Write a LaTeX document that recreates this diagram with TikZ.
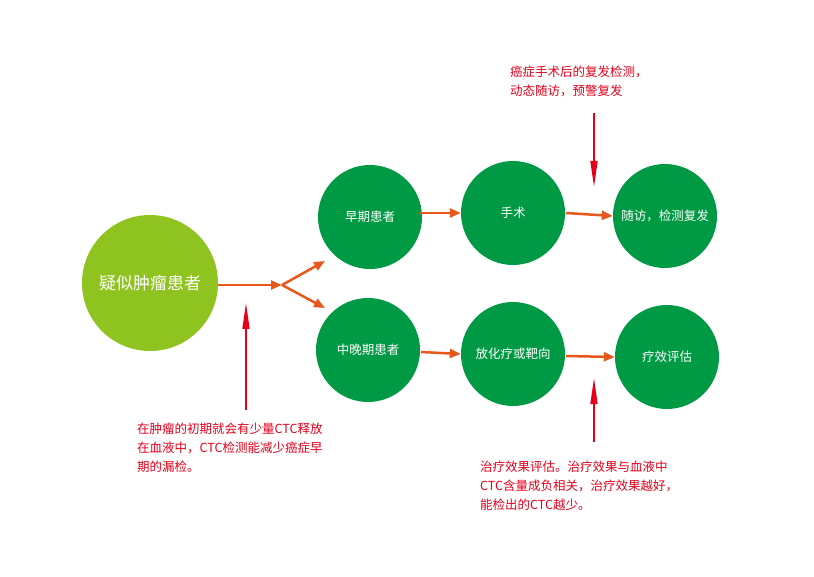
\documentclass[tikz,border=0pt]{standalone}
\usepackage{fontspec}
\setmainfont{Noto Sans CJK SC}
\usetikzlibrary{arrows.meta}
\definecolor{lg}{HTML}{8FC31F}
\definecolor{dg}{HTML}{009A44}
\definecolor{og}{HTML}{E8581C}
\definecolor{rd}{HTML}{E5001A}
\begin{document}
\begin{tikzpicture}[x=1pt,y=-1pt,
 big/.style={circle,fill=lg,minimum size=136pt,inner sep=0,text=white,font=\fontsize{17}{20}\selectfont},
 sm/.style={circle,fill=dg,minimum size=104pt,inner sep=0,text=white,font=\fontsize{12.5}{15}\selectfont},
 oa/.style={draw=og,line width=2.5pt,-{Triangle[length=11pt,width=9pt]}},
 ra/.style={draw=rd,line width=1.6pt,-{Triangle[length=26pt,width=7pt]}},
 rt/.style={text=rd,align=left,anchor=north west,inner sep=0,font=\fontsize{12.5}{19}\selectfont}]
\useasboundingbox (0,0) rectangle (814,577);
\node[big] (s) at (150,283) {疑似肿瘤患者};
\node[sm] (e) at (370,217) {早期患者};
\node[sm] (op) at (513,213) {手术};
\node[sm] (f) at (665,216) {随访，检测复发};
\node[sm] (m) at (368,350) {中晚期患者};
\node[sm] (c) at (513,354) {放化疗或靶向};
\node[sm] (ev) at (667,357) {疗效评估};
\coordinate (br) at (282,285);
\draw[oa] (218,285) -- (br);
\draw[oa] (br) -- (325,261);
\draw[oa] (br) -- (325,308);
\draw[oa] (420,213) -- (op.west);
\draw[oa] (566,213) -- (f.west);
\draw[oa] (421,352) -- (c.west);
\draw[oa] (566,356) -- (ev.west);
\coordinate (r1a) at (246,410); \coordinate (r1b) at (246,303);
\coordinate (r2a) at (594,113); \coordinate (r2b) at (594,187);
\coordinate (r3a) at (594,442); \coordinate (r3b) at (594,378);
\draw[ra] (r1a) -- (r1b);
\draw[ra] (r2a) -- (r2b);
\draw[ra] (r3a) -- (r3b);
\node[rt] (t1) at (137,423) {在肿瘤的初期就会有少量CTC释放\\在血液中，CTC检测能减少癌症早\\期的漏检。};
\node[rt] (t2) at (510,66) {癌症手术后的复发检测，\\动态随访，预警复发};
\node[rt] (t3) at (480,461) {治疗效果评估。治疗效果与血液中\\CTC含量成负相关，治疗效果越好，\\能检出的CTC越少。};
\end{tikzpicture}
\end{document}
